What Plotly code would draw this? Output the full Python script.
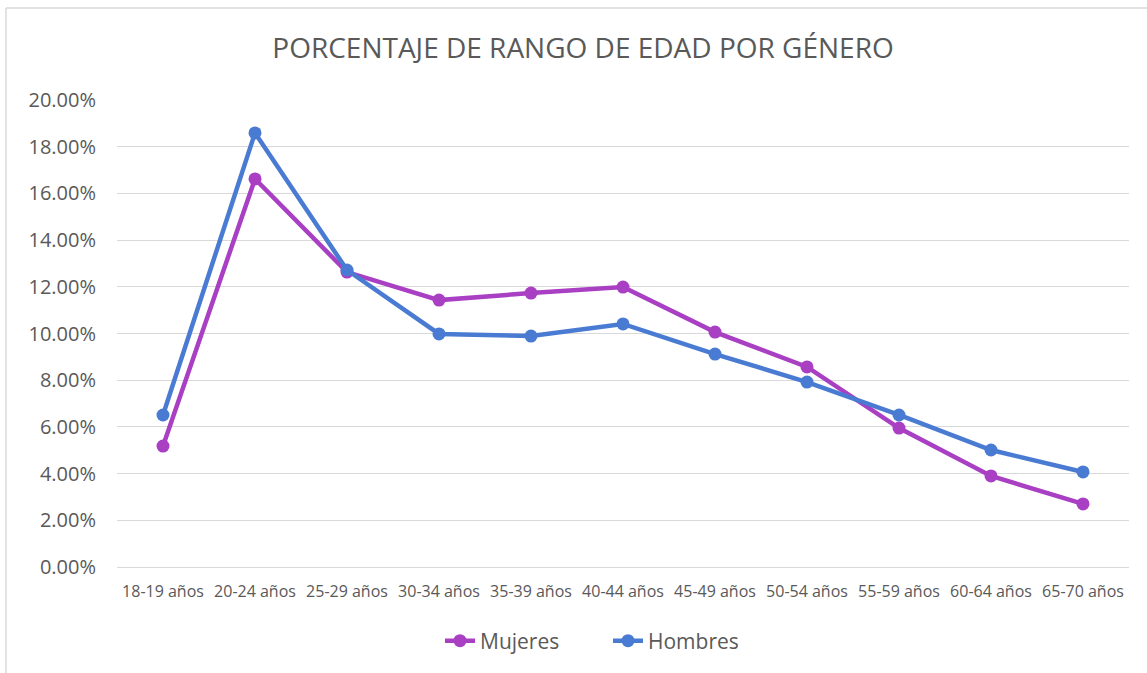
import plotly.graph_objects as go

categories = ["18-19 años", "20-24 años", "25-29 años", "30-34 años", "35-39 años",
              "40-44 años", "45-49 años", "50-54 años", "55-59 años", "60-64 años", "65-70 años"]
mujeres = [0.0518, 0.1662, 0.1263, 0.1143, 0.1173, 0.1199, 0.1006, 0.0857, 0.0595, 0.0390, 0.0270]
hombres = [0.0651, 0.1859, 0.1272, 0.0998, 0.0989, 0.1041, 0.0912, 0.0792, 0.0651, 0.0501, 0.0407]
y_ticks = [0.0, 0.02, 0.04, 0.06, 0.08, 0.10, 0.12, 0.14, 0.16, 0.18, 0.20]
y_ticktext = ["0.00%", "2.00%", "4.00%", "6.00%", "8.00%", "10.00%", "12.00%", "14.00%", "16.00%", "18.00%", "20.00%"]

W, H = 1147, 673
L, R, T, B = 117, 18, 100, 106
FONT = "Open Sans"
GREY = "#595959"

fig = go.Figure()
fig.add_trace(go.Scatter(x=categories, y=mujeres, name="Mujeres", mode="lines+markers",
                         line=dict(color="#A93FC3", width=4.5),
                         marker=dict(color="#A93FC3", size=13)))
fig.add_trace(go.Scatter(x=categories, y=hombres, name="Hombres", mode="lines+markers",
                         line=dict(color="#4A7BD3", width=4.5),
                         marker=dict(color="#4A7BD3", size=13)))

pw = W - L - R
ph = H - T - B


def px_x(px):
    return (px - L) / pw


def px_y(py):
    return (H - B - py) / ph


# chart border (top and left edges visible in the window)
fig.add_shape(type="line", xref="paper", yref="paper",
              x0=px_x(6), x1=px_x(W + 5), y0=px_y(8), y1=px_y(8),
              line=dict(color="#D9D9D9", width=1.5), layer="below")
fig.add_shape(type="line", xref="paper", yref="paper",
              x0=px_x(6), x1=px_x(6), y0=px_y(8), y1=px_y(H + 5),
              line=dict(color="#D9D9D9", width=1.5), layer="below")

fig.update_layout(
    width=W, height=H,
    margin=dict(l=L, r=R, t=T, b=B, autoexpand=False),
    paper_bgcolor="white", plot_bgcolor="white",
    font=dict(family=FONT, color=GREY),
    title=dict(text="PORCENTAJE DE RANGO DE EDAD POR GÉNERO", x=583 / W, xanchor="center",
               y=1 - 48 / H, yanchor="middle", xref="container", yref="container",
               font=dict(family=FONT, size=28, color=GREY)),
    xaxis=dict(type="category", range=[-0.5, len(categories) - 0.5], showgrid=False,
               showline=True, linecolor="#D9D9D9", linewidth=1, ticks="",
               tickfont=dict(size=16, color=GREY), ticklabelstandoff=10, fixedrange=True),
    yaxis=dict(range=[0, 0.20], tickvals=y_ticks, ticktext=y_ticktext, showgrid=True,
               gridcolor="#D9D9D9", gridwidth=1, zeroline=False, showline=False, ticks="",
               tickfont=dict(size=20, color=GREY), ticklabelstandoff=20, fixedrange=True),
    legend=dict(orientation="h", x=608 / W, xanchor="center", y=1 - 641 / H, yanchor="middle",
                xref="container", yref="container", entrywidth=123,
                font=dict(size=21, color=GREY), tracegroupgap=0),
    showlegend=True,
)
fig.write_html("out.html", config={"displayModeBar": False},
               post_script="document.body.style.margin='0';document.body.style.overflow='hidden';")
